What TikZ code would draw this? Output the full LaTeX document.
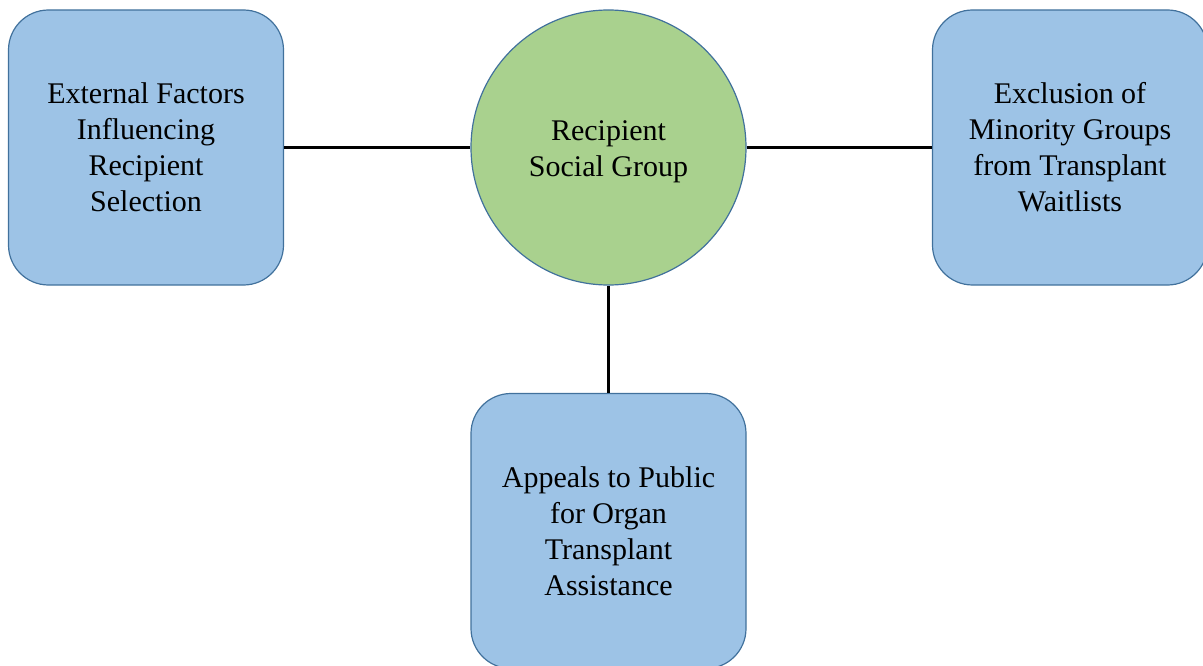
\documentclass[tikz,border=0pt]{standalone}
\usepackage{fontspec}
\setmainfont{Liberation Serif}
\definecolor{boxfill}{HTML}{9DC3E6}
\definecolor{circfill}{HTML}{A9D18E}
\definecolor{edgeblue}{HTML}{41719C}
\begin{document}
\begin{tikzpicture}[x=1pt,y=-1pt,
  every node/.style={font=\fontsize{30}{36}\selectfont, align=center, inner sep=0pt},
  topic/.style={draw=edgeblue, line width=1.2pt, fill=boxfill, rounded corners=40pt,
    minimum width=275pt, minimum height=275pt},
  hub/.style={circle, draw=edgeblue, line width=1.2pt, fill=circfill, minimum size=275pt},
  link/.style={draw=black, line width=2.2pt}]
\useasboundingbox (0,0) rectangle (1203,666);
\begin{scope}
\clip (0,0) rectangle (1203,666);
\node[hub] (c) at (608.5,147.5) {};
\node (ctext) at (608.5,152) {Recipient\\Social Group};
\node[topic] (l) at (146,147.5) {External Factors\\Influencing\\Recipient\\Selection};
\node[topic] (r) at (1070,147.5) {Exclusion of\\Minority Groups\\from Transplant\\Waitlists};
\node[topic] (b) at (608.5,531) {Appeals to Public\\for Organ\\Transplant\\Assistance};
\draw[link] (l.east) -- (c.west);
\draw[link] (c.east) -- (r.west);
\draw[link] (c.south) -- (b.north);
\end{scope}
\end{tikzpicture}
\end{document}
